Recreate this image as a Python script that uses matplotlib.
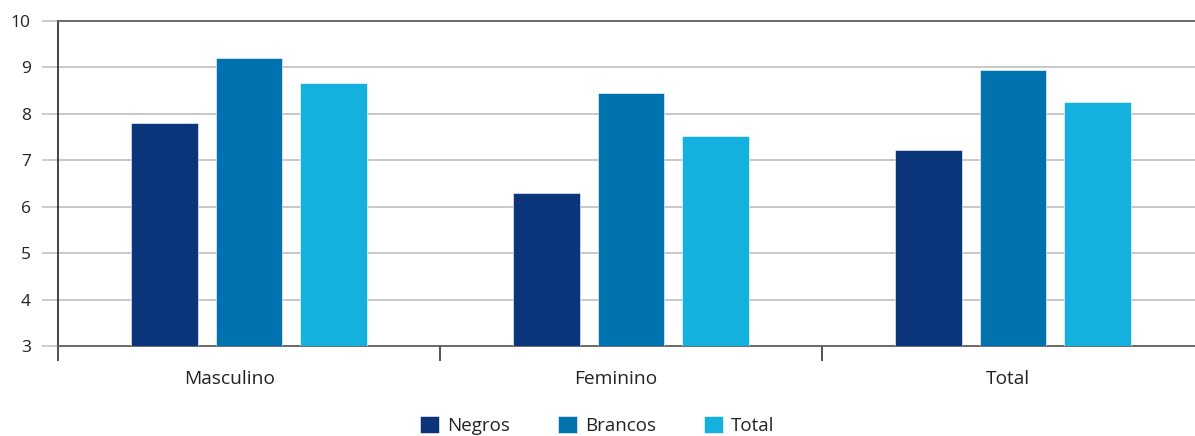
import numpy as np
from matplotlib import pyplot as plt
from matplotlib import transforms

categorias = ["Masculino", "Feminino", "Total"]
series = ["Negros", "Brancos", "Total"]
negros = [7.80, 6.29, 7.22]
brancos = [9.20, 8.45, 8.94]
total = [8.66, 7.52, 8.25]
yticks = [3, 4, 5, 6, 7, 8, 9, 10]

cores = ["#0a357a", "#0072ad", "#14b0de"]

plt.rcParams['font.family'] = ['Open Sans', 'DejaVu Sans']

fig = plt.figure(figsize=(11.95, 4.36), dpi=100)
ax = fig.add_axes([58/1195, 1-346/436, 1146/1195, 325/436])

x = np.arange(len(categorias)) + 0.5
w = 0.175
off = 0.222
for i, (vals, nome) in enumerate(zip([negros, brancos, total], series)):
    ax.bar(x + (i-1)*off, np.array(vals) - 3, bottom=3, width=w, color=cores[i],
           label=nome, zorder=3, edgecolor='white', linewidth=0.4)

ax.set_ylim(3, 10)
ax.set_xlim(0, 3)
ax.set_yticks(yticks)
ax.yaxis.grid(True, color='#c8c8c8', linewidth=1.4, zorder=0)

ax.spines['right'].set_visible(False)
ax.spines['top'].set_color('#606060')
ax.spines['bottom'].set_color('#606060')
ax.spines['top'].set_linewidth(1.3)
ax.spines['bottom'].set_linewidth(1.3)
ax.spines['left'].set_color('#222222')
ax.spines['left'].set_linewidth(1.2)

ax.tick_params(axis='y', length=11.5, width=1.3, color='#c8c8c8', pad=8,
               labelsize=12.5, labelcolor='#222222')
for v, t in zip(yticks, ax.yaxis.get_major_ticks()):
    if v in (3, 10):
        t.tick1line.set_color('#606060')

ax.set_xticks([0, 1, 2, 3])
ax.set_xticklabels([])
ax.tick_params(axis='x', which='major', length=11, width=1.2, color='#333333')

# rótulos das categorias (levemente deslocados como no original)
desloc = [-19, -15, -5]
for xi, nome, d in zip(x, categorias, desloc):
    tr = ax.get_xaxis_transform() + transforms.ScaledTranslation(d/100, 0, fig.dpi_scale_trans)
    ax.text(xi, -0.1, nome, transform=tr, ha='center', va='center',
            fontsize=13.8, color='#222222')

fig.legend(loc='upper center', bbox_to_anchor=(0.5, 0.062), ncol=3, frameon=False,
           fontsize=13.5, handlelength=1.0, handleheight=1.0, handletextpad=0.45,
           columnspacing=2.55, borderaxespad=0, labelcolor='#222222')

fig.savefig("out.png", dpi=100)
